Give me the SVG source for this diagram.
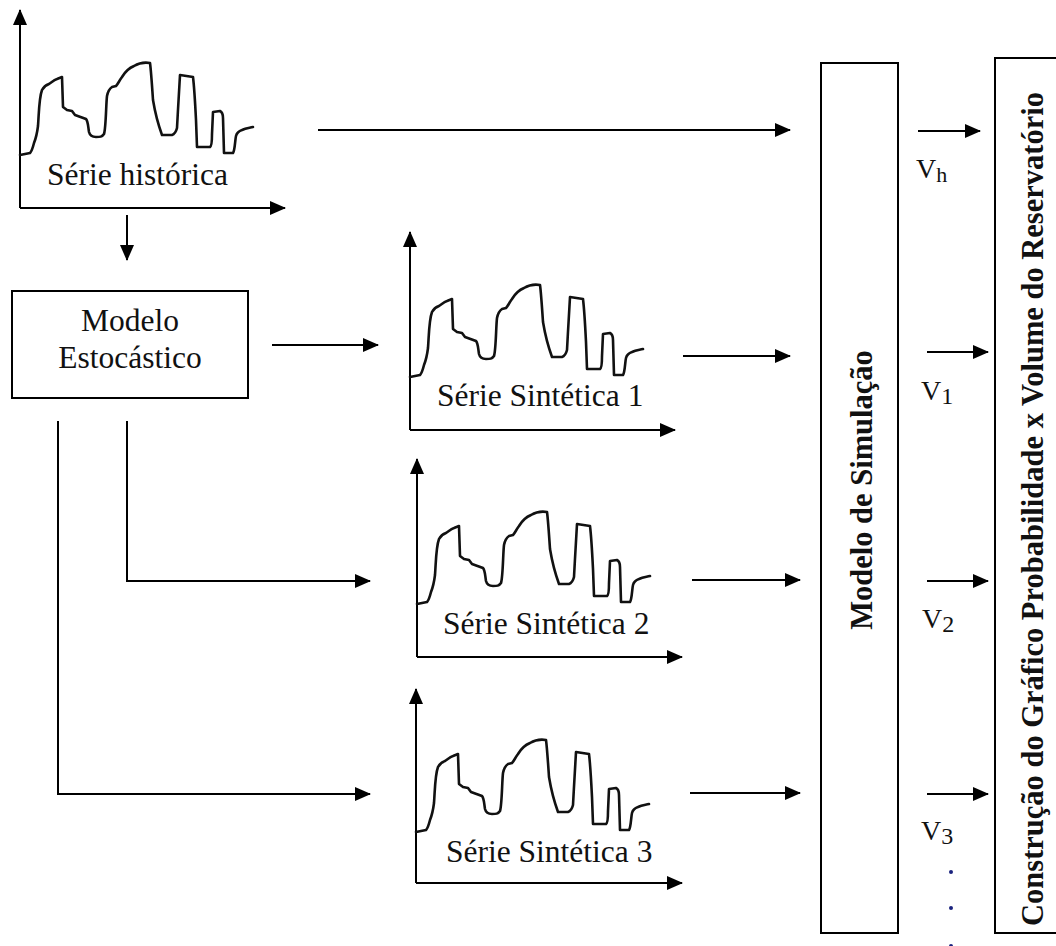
<svg xmlns="http://www.w3.org/2000/svg" xmlns:xlink="http://www.w3.org/1999/xlink" width="1056" height="946" viewBox="0 0 1056 946">
<style>
  .ln { stroke:#000; stroke-width:2; fill:none; }
  .box { stroke:#000; stroke-width:2; fill:#fff; }
  .wave { stroke:#111; stroke-width:2.6; fill:none; stroke-linejoin:round; stroke-linecap:round; }
  .t { font-family:"Liberation Serif","Times New Roman",serif; font-size:31.5px; fill:#111; }
  .tb { font-family:"Liberation Serif","Times New Roman",serif; font-size:30.5px; font-weight:bold; fill:#111; }
  .v { font-family:"Liberation Serif","Times New Roman",serif; font-size:28px; fill:#111; }
</style>
<defs>
  <marker id="ah" markerUnits="userSpaceOnUse" markerWidth="16" markerHeight="14" viewBox="0 0 16 14" refX="15" refY="7" orient="auto">
    <path d="M0,0 L16,7 L0,14 z" fill="#000"/>
  </marker>
  <path id="wave" class="wave" d="M20,155 L30,153 C32,151 33,147 34,143 C36,138 37,134 38,126 C39,112 39,98 42,90 C44,86 46,85 49,84 C52,82 54,80 57,79 L62,77 L63,107 L67,110 L72,111 L75,115 L86,119 C88,121 88,126 89,132 C90,136 92,137 96,137 C100,137 102,137 104,134 C106,128 106,104 107,96 C108,91 109,89 112,87 L116,86 C118,84 119,81 122,77 C125,72 129,68 134,66 C139,63 144,62 150,63 C151,70 152,85 153,100 C155,112 158,124 162,135 L172,135 C175,134 176,132 177,128 C178,110 179,90 180,75 L193,77 C194,85 195,100 196,120 L197,147 L210,147 C212,146 212,140 212,134 L213,112 L220,111 C222,112 223,114 223,118 L224,153 L233,153 C235,150 235,140 236,136 C237,132 239,131 242,130 C246,128 249,128 253,127"/>
</defs>

<g id="serie-historica">
  <line class="ln" x1="20" y1="208" x2="20" y2="10" marker-end="url(#ah)"/>
  <line class="ln" x1="20" y1="208" x2="285" y2="208" marker-end="url(#ah)"/>
  <use xlink:href="#wave"/>
  <text class="t" x="47" y="185">Série histórica</text>
</g>

<g id="modelo-estocastico">
  <rect class="box" x="12" y="291" width="236" height="107"/>
  <text class="t" x="130" y="331" text-anchor="middle">Modelo</text>
  <text class="t" x="130" y="368" text-anchor="middle">Estocástico</text>
</g>

<g id="serie-sintetica-1" transform="translate(390,222)">
  <line class="ln" x1="20" y1="208" x2="20" y2="10" marker-end="url(#ah)"/>
  <line class="ln" x1="20" y1="208" x2="285" y2="208" marker-end="url(#ah)"/>
  <use xlink:href="#wave"/>
  <text class="t" x="47" y="184">Série Sintética 1</text>
</g>

<g id="serie-sintetica-2" transform="translate(397,449)">
  <line class="ln" x1="20" y1="208" x2="20" y2="10" marker-end="url(#ah)"/>
  <line class="ln" x1="20" y1="208" x2="285" y2="208" marker-end="url(#ah)"/>
  <use xlink:href="#wave"/>
  <text class="t" x="46" y="185">Série Sintética 2</text>
</g>

<g id="serie-sintetica-3" transform="translate(396,677)">
  <line class="ln" x1="20" y1="206" x2="20" y2="12" marker-end="url(#ah)"/>
  <line class="ln" x1="20" y1="206" x2="286" y2="206" marker-end="url(#ah)"/>
  <use xlink:href="#wave"/>
  <text class="t" x="50" y="185">Série Sintética 3</text>
</g>

<g id="modelo-simulacao">
  <rect class="box" x="821" y="63" width="77" height="870"/>
  <text class="tb" transform="translate(872,490) rotate(-90)" text-anchor="middle">Modelo de Simulação</text>
</g>

<g id="construcao-grafico">
  <rect class="box" x="995" y="58" width="80" height="875"/>
  <text class="tb" transform="translate(1043,509) rotate(-90)" text-anchor="middle">Construção do Gráfico Probabilidade x Volume do Reservatório</text>
</g>

<g id="labels">
  <text class="v" x="916" y="178">V<tspan font-size="22" dy="4">h</tspan></text>
  <text class="v" x="921" y="400">V<tspan font-size="24" dy="4">1</tspan></text>
  <text class="v" x="922" y="628">V<tspan font-size="24" dy="4">2</tspan></text>
  <text class="v" x="921" y="840">V<tspan font-size="24" dy="4">3</tspan></text>
  <circle cx="951" cy="872" r="2" fill="#1a237e"/>
  <circle cx="951" cy="908" r="2" fill="#1a237e"/>
  <circle cx="951" cy="946" r="2" fill="#1a237e"/>
</g>

<g id="connectors">
  <line class="ln" x1="318" y1="130" x2="790" y2="130" marker-end="url(#ah)"/>
  <line class="ln" x1="127" y1="215" x2="127" y2="260" marker-end="url(#ah)"/>
  <line class="ln" x1="272" y1="345" x2="378" y2="345" marker-end="url(#ah)"/>
  <polyline class="ln" points="127,421 127,581 370,581" marker-end="url(#ah)"/>
  <polyline class="ln" points="58,421 58,794 370,794" marker-end="url(#ah)"/>
  <line class="ln" x1="683" y1="356" x2="790" y2="356" marker-end="url(#ah)"/>
  <line class="ln" x1="692" y1="580" x2="800" y2="580" marker-end="url(#ah)"/>
  <line class="ln" x1="690" y1="793" x2="800" y2="793" marker-end="url(#ah)"/>
  <line class="ln" x1="918" y1="131" x2="980" y2="131" marker-end="url(#ah)"/>
  <line class="ln" x1="927" y1="352" x2="988" y2="352" marker-end="url(#ah)"/>
  <line class="ln" x1="927" y1="581" x2="988" y2="581" marker-end="url(#ah)"/>
  <line class="ln" x1="927" y1="794" x2="988" y2="794" marker-end="url(#ah)"/>
</g>
</svg>
